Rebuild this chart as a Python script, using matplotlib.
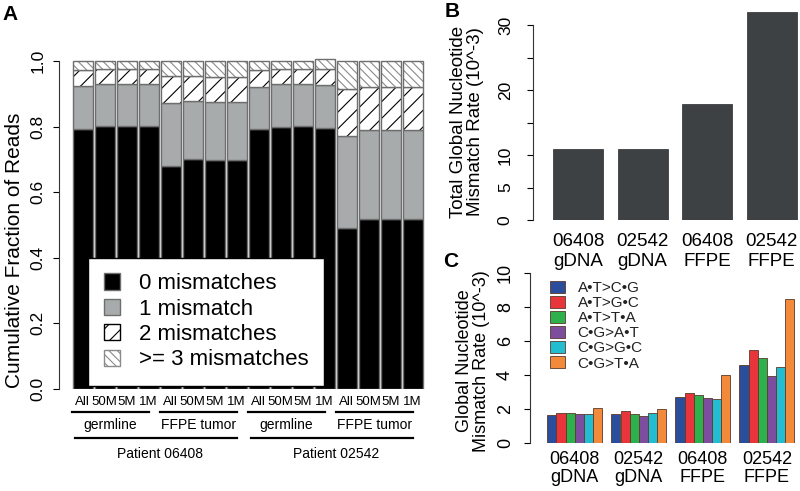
import numpy as np
import matplotlib
matplotlib.use('Agg')
import matplotlib.pyplot as plt
import matplotlib.transforms as mtransforms
from matplotlib.patches import Patch

plt.rcParams['font.family'] = ['Liberation Sans', 'DejaVu Sans']
plt.rcParams['hatch.linewidth'] = 0.8

W, H = 800, 491

# ---- panel A: fraction of reads by number of mismatches ----
reads_zero = [0.792, 0.801, 0.801, 0.801, 0.680, 0.702, 0.697, 0.697,
              0.792, 0.799, 0.801, 0.796, 0.490, 0.519, 0.519, 0.519]
reads_one = [0.131, 0.129, 0.129, 0.129, 0.191, 0.176, 0.179, 0.179,
             0.129, 0.130, 0.128, 0.131, 0.282, 0.272, 0.272, 0.272]
reads_two = [0.049, 0.045, 0.045, 0.045, 0.084, 0.077, 0.076, 0.076,
             0.051, 0.046, 0.046, 0.048, 0.142, 0.130, 0.130, 0.130]
reads_three = [0.028, 0.025, 0.025, 0.025, 0.045, 0.045, 0.048, 0.048,
               0.028, 0.025, 0.025, 0.030, 0.086, 0.079, 0.079, 0.079]
subsample_labels = ['All', '50M', '5M', '1M'] * 4
tissue_labels = ['germline', 'FFPE tumor', 'germline', 'FFPE tumor']
patient_labels = ['Patient 06408', 'Patient 02542']
legend_a = ['0 mismatches', '1 mismatch', '2 mismatches', '>= 3 mismatches']

# ---- panel B: total mismatch rate ----
total_rate = [10.9, 10.9, 17.9, 32.0]
sample_ids = ['06408', '02542', '06408', '02542']
sample_types = ['gDNA', 'gDNA', 'FFPE', 'FFPE']

# ---- panel C: mismatch rate by substitution type ----
mismatch_types = ['A\u2022T>C\u2022G', 'A\u2022T>G\u2022C', 'A\u2022T>T\u2022A',
                  'C\u2022G>A\u2022T', 'C\u2022G>G\u2022C', 'C\u2022G>T\u2022A']
rate_at_cg = [1.64, 1.72, 2.73, 4.57]
rate_at_gc = [1.78, 1.91, 2.93, 5.47]
rate_at_ta = [1.76, 1.72, 2.81, 4.98]
rate_cg_at = [1.72, 1.62, 2.64, 3.98]
rate_cg_gc = [1.72, 1.80, 2.60, 4.49]
rate_cg_ta = [2.07, 1.99, 4.02, 8.50]
type_colors = ['#2a4d9c', '#e8343b', '#2eb14c', '#7d4e9e', '#22bdd0', '#f38a3b']


def px_axes(fig, left, top, right, bottom):
    return fig.add_axes([left / W, 1 - bottom / H, (right - left) / W, (bottom - top) / H])


def fy(y):
    return 1 - y / H


def r_style(ax, lo, hi):
    for s in ['top', 'right', 'bottom']:
        ax.spines[s].set_visible(False)
    ax.spines['left'].set_bounds(lo, hi)
    ax.spines['left'].set_linewidth(0.8)
    ax.spines['left'].set_color('#333333')
    ax.patch.set_visible(False)


fig = plt.figure(figsize=(W / 100, H / 100), dpi=100)

# ================= panel A =================
axA = px_axes(fig, 59, 55, 425, 389)
x = np.arange(16)
bw = 20 / 22
edge = '#6e6e6e'
b = np.zeros(16)
axA.bar(x, reads_zero, bw, bottom=b, color='black', edgecolor=edge, lw=1)
b += reads_zero
axA.bar(x, reads_one, bw, bottom=b, color='#a8abac', edgecolor=edge, lw=1)
b += reads_one
axA.bar(x, reads_two, bw, bottom=b, color='white', edgecolor='black', hatch='//', lw=0)
axA.bar(x, reads_two, bw, bottom=b, fill=False, edgecolor=edge, lw=1)
b += reads_two
axA.bar(x, reads_three, bw, bottom=b, color='white', edgecolor='#8a8a8a', hatch='\\\\\\\\', lw=0)
axA.bar(x, reads_three, bw, bottom=b, fill=False, edgecolor=edge, lw=1)

axA.set_xlim((59 - 82.7) / 22, (425 - 82.7) / 22)
axA.set_ylim(0, (389 - 55) / 328)
r_style(axA, 0, 1)
axA.set_yticks(np.arange(0, 1.01, 0.2))
axA.set_yticklabels(['0.0', '0.2', '0.4', '0.6', '0.8', '1.0'], rotation=90, va='center')
axA.tick_params(axis='y', length=4.5, width=0.8, pad=5, labelsize=12.5)
axA.set_xticks(x)
axA.set_xticklabels(subsample_labels)
axA.tick_params(axis='x', length=0, pad=5, labelsize=9.5)

trA = mtransforms.blended_transform_factory(axA.transData, fig.transFigure)
for g, lab in enumerate(tissue_labels):
    axA.plot([4 * g - 0.5, 4 * g + 3], [fy(411.7), fy(411.7)], color='black', lw=1.6,
             transform=trA, clip_on=False)
    axA.text(4 * g + 1.25, fy(425), lab, transform=trA, ha='center', va='center', fontsize=10)
for p, lab in enumerate(patient_labels):
    axA.plot([8 * p - 0.35, 8 * p + 7], [fy(438.3), fy(438.3)], color='black', lw=1.6,
             transform=trA, clip_on=False)
    axA.text(8 * p + 3.5, fy(454), lab, transform=trA, ha='center', va='center', fontsize=10)

handles = [Patch(facecolor='black', edgecolor=edge),
           Patch(facecolor='#a8abac', edgecolor=edge),
           Patch(facecolor='white', edgecolor='black', hatch='//'),
           Patch(facecolor='white', edgecolor='#8a8a8a', hatch='\\\\\\\\')]
legA = axA.legend(handles, legend_a, loc='lower left', bbox_to_anchor=(88 / W, fy(386)),
                  bbox_transform=fig.transFigure, fontsize=16, fancybox=False,
                  edgecolor='black', framealpha=1, handlelength=0.75, handleheight=0.75,
                  labelspacing=0.2, borderpad=0.7, handletextpad=0.85, borderaxespad=0)
legA.get_frame().set_linewidth(1.0)

fig.text(15 / W, fy(250), 'Cumulative Fraction of Reads', rotation=90,
         ha='center', va='center', fontsize=15)
fig.text(2 / W, fy(5), 'A', fontsize=15, fontweight='bold', va='top')

# ================= panel B =================
axB = px_axes(fig, 533, 5, 800, 220)
xb = np.arange(4)
axB.bar(xb, total_rate, 50 / 64.5, color='#3e4144', edgecolor='#2a2a2a', lw=0.5)
axB.set_xlim((533 - 578) / 64.5, (800 - 578) / 64.5)
axB.set_ylim(0, 215 / 6.5)
r_style(axB, 0, 30)
axB.set_yticks(np.arange(0, 31, 5))
axB.set_yticklabels(['0', '5', '10', '', '20', '', '30'], rotation=90, va='center')
axB.tick_params(axis='y', length=4.5, width=0.8, pad=10, labelsize=12.5)
axB.set_xticks([])
trB = mtransforms.blended_transform_factory(axB.transData, fig.transFigure)
for i in range(4):
    axB.text(xb[i], fy(241), sample_ids[i], transform=trB, ha='center', va='center', fontsize=13.5)
    axB.text(xb[i], fy(261), sample_types[i], transform=trB, ha='center', va='center', fontsize=13.5)
fig.text(467 / W, fy(122), 'Total Global Nucleotide\nMismatch Rate (10^-3)', rotation=90,
         ha='center', va='center', fontsize=13.5, linespacing=1.05, multialignment='center')
fig.text(445 / W, fy(2), 'B', fontsize=15, fontweight='bold', va='top')

# ================= panel C =================
axC = px_axes(fig, 530, 255, 800, 443.3)
series = [rate_at_cg, rate_at_gc, rate_at_ta, rate_cg_at, rate_cg_gc, rate_cg_ta]
groups = np.arange(4)
for j, vals in enumerate(series):
    axC.bar(groups * 7 + j + 0.5, vals, 1.0, color=type_colors[j], edgecolor='#5a3a2a',
            lw=0.6, label=mismatch_types[j])
axC.set_xlim((530 - 547.3) / 9.15, (800 - 547.3) / 9.15)
axC.set_ylim(0, (443.3 - 255) / 17.03)
r_style(axC, 0, 10)
axC.set_yticks(np.arange(0, 11, 2))
axC.set_yticklabels([str(v) for v in range(0, 11, 2)], rotation=90, va='center')
axC.tick_params(axis='y', length=4.5, width=0.8, pad=7, labelsize=13)
axC.set_xticks([])
trC = mtransforms.blended_transform_factory(axC.transData, fig.transFigure)
for i in range(4):
    axC.text(groups[i] * 7 + 3, fy(460), sample_ids[i], transform=trC, ha='center', va='center', fontsize=13)
    axC.text(groups[i] * 7 + 3, fy(478), sample_types[i], transform=trC, ha='center', va='center', fontsize=13)
legC = axC.legend(loc='upper left', bbox_to_anchor=(550 / W, fy(281)), bbox_transform=fig.transFigure,
                  frameon=False, fontsize=11, handlelength=1.0, handleheight=0.8,
                  handletextpad=0.8, labelspacing=0.06, borderaxespad=0, borderpad=0)
for t in legC.get_texts():
    t.set_color('#222222')
fig.text(473 / W, fy(361), 'Global Nucleotide\nMismatch Rate (10^-3)', rotation=90,
         ha='center', va='center', fontsize=13, linespacing=1.05, multialignment='center')
fig.text(443 / W, fy(252), 'C', fontsize=15, fontweight='bold', va='top')

fig.savefig('out.png', dpi=100)
